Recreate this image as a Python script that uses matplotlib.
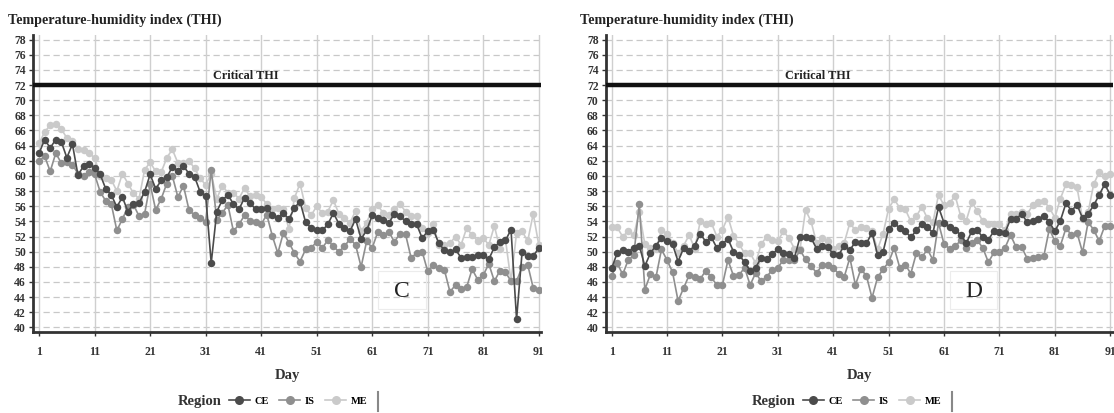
import matplotlib
matplotlib.use("Agg")
import matplotlib.pyplot as plt
from matplotlib.lines import Line2D
from matplotlib.patches import Rectangle
import numpy as np

days = list(range(1, 92))
regions = ["CE", "IS", "ME"]
critical_thi = 72
x_ticks = [1, 11, 21, 31, 41, 51, 61, 71, 81, 91]
y_ticks = list(range(40, 80, 2))

ce_c = [63.0, 64.8, 63.7, 64.8, 64.5, 62.4, 64.2, 60.1, 61.3, 61.6,
        61.1, 60.2, 58.3, 57.5, 55.9, 57.2, 55.3, 56.3, 56.4, 57.9,
        60.2, 58.3, 59.4, 59.8, 61.2, 60.7, 61.3, 60.3, 59.9, 57.9,
        57.4, 48.5, 55.3, 56.8, 57.5, 56.3, 55.6, 57.1, 56.4, 55.6,
        55.6, 55.8, 54.9, 54.4, 55.1, 54.3, 55.8, 56.6, 53.9, 53.1,
        52.9, 52.8, 53.6, 55.1, 53.7, 53.1, 52.7, 54.3, 51.7, 52.8,
        54.8, 54.5, 54.2, 53.8, 55.0, 54.7, 54.0, 53.7, 53.6, 51.8,
        52.7, 52.9, 51.1, 50.2, 49.9, 50.3, 49.2, 49.3, 49.3, 49.6,
        49.5, 49.0, 50.6, 51.3, 51.5, 52.9, 41.1, 50.0, 49.4, 49.4, 50.5]
is_c = [62.0, 62.6, 60.6, 63.0, 61.7, 61.8, 61.5, 60.3, 60.0, 60.5,
        60.2, 57.9, 56.7, 56.3, 52.8, 54.3, 55.9, 56.2, 54.7, 55.0,
        58.9, 55.5, 57.0, 59.0, 60.0, 57.2, 58.7, 55.5, 54.8, 54.4,
        53.9, 60.8, 54.2, 55.1, 56.2, 52.7, 53.6, 54.8, 54.1, 53.9,
        53.6, 54.9, 52.1, 49.8, 52.5, 51.2, 49.8, 48.7, 50.3, 50.5,
        51.3, 50.5, 51.5, 50.7, 50.0, 50.7, 51.7, 50.9, 48.0, 51.4,
        50.5, 52.6, 52.2, 52.6, 51.3, 52.4, 52.3, 49.2, 49.8, 50.0,
        47.4, 48.2, 47.8, 47.6, 44.7, 45.6, 45.1, 45.3, 47.7, 46.3,
        46.9, 48.4, 46.1, 47.5, 47.3, 46.1, 46.1, 48.0, 48.3, 45.2, 45.0]
me_c = [64.3, 65.8, 66.7, 66.9, 66.2, 65.0, 64.6, 63.6, 63.4, 63.0,
        62.4, 60.0, 59.7, 59.5, 58.0, 60.3, 59.0, 57.7, 57.0, 60.8,
        61.8, 60.6, 60.5, 62.4, 63.5, 61.7, 61.7, 62.0, 61.0, 59.7,
        58.8, 60.3, 57.0, 58.7, 57.8, 57.8, 57.0, 58.4, 57.3, 57.5,
        57.2, 56.3, 55.6, 55.8, 55.6, 53.0, 57.1, 59.0, 55.8, 54.8,
        56.0, 55.1, 55.3, 56.8, 55.0, 54.5, 53.8, 55.4, 52.7, 53.8,
        55.7, 56.1, 55.1, 54.9, 55.6, 56.3, 55.3, 54.7, 54.7, 53.1,
        52.5, 53.6, 50.9, 50.9, 51.1, 52.0, 50.9, 53.1, 52.2, 51.4,
        51.8, 50.9, 53.4, 50.4, 51.6, 46.1, 52.5, 52.7, 51.4, 55.0, 50.9]

ce_d = [47.8, 49.8, 50.2, 50.0, 50.5, 50.8, 48.1, 49.8, 50.8, 51.8,
        51.4, 51.0, 48.7, 50.5, 50.1, 50.8, 52.4, 51.3, 51.9, 50.5,
        51.0, 51.7, 50.0, 49.6, 48.6, 47.5, 47.9, 49.2, 49.0, 49.7,
        50.3, 49.8, 49.7, 49.2, 51.9, 52.0, 51.8, 50.4, 50.8, 50.6,
        49.7, 49.6, 50.8, 50.2, 51.3, 51.2, 51.1, 52.5, 49.6, 50.0,
        53.0, 53.8, 53.1, 52.7, 51.9, 52.8, 53.7, 53.2, 52.5, 55.9,
        53.8, 53.3, 52.9, 52.2, 51.1, 52.7, 52.8, 51.9, 51.6, 52.7,
        52.6, 52.5, 54.3, 54.3, 55.0, 53.9, 54.1, 54.3, 54.7, 53.9,
        52.7, 54.1, 56.4, 55.4, 56.2, 54.4, 55.0, 56.1, 57.5, 58.9, 57.5]
is_d = [46.8, 48.5, 47.0, 48.9, 49.5, 56.3, 45.0, 47.0, 46.6, 50.3,
        48.9, 47.3, 43.5, 45.2, 46.9, 46.6, 46.4, 47.5, 46.6, 45.6,
        45.6, 48.9, 46.8, 46.9, 47.9, 45.6, 47.2, 46.1, 46.7, 47.6,
        47.9, 48.9, 48.9, 48.9, 50.2, 49.0, 48.1, 47.2, 48.2, 48.2,
        47.8, 47.1, 46.7, 49.2, 45.6, 47.7, 46.8, 43.9, 46.6, 47.7,
        48.6, 50.5, 47.9, 48.3, 47.1, 49.8, 49.3, 50.3, 48.9, 53.8,
        51.0, 50.4, 50.7, 51.5, 50.5, 51.2, 51.5, 50.5, 48.6, 49.9,
        50.0, 50.5, 52.2, 50.6, 50.6, 49.1, 49.2, 49.3, 49.4, 53.0,
        51.4, 50.8, 53.1, 52.2, 52.5, 49.9, 53.9, 52.9, 51.4, 53.4, 53.4]
me_d = [53.2, 53.2, 52.0, 52.7, 52.2, 55.2, 51.0, 50.5, 50.3, 52.8,
        52.4, 51.2, 49.8, 50.8, 52.2, 50.4, 54.0, 53.6, 53.8, 52.0,
        52.9, 54.6, 52.1, 51.0, 49.8, 49.8, 48.5, 51.0, 52.0, 51.6,
        51.4, 52.7, 51.8, 50.4, 50.3, 55.5, 54.0, 51.1, 51.8, 51.4,
        50.4, 50.8, 51.2, 53.8, 52.8, 53.3, 53.1, 52.7, 50.3, 52.4,
        55.7, 56.9, 55.8, 55.6, 54.0, 54.7, 55.9, 54.4, 53.9, 57.5,
        56.1, 56.4, 57.4, 54.7, 54.1, 56.5, 55.4, 54.0, 53.7, 53.6,
        53.7, 52.8, 55.0, 55.0, 55.2, 55.0, 56.1, 56.6, 56.7, 55.8,
        54.5, 57.0, 58.9, 58.8, 58.5, 54.3, 55.2, 58.9, 60.5, 60.0, 60.2]

panels = [("C", ce_c, is_c, me_c), ("D", ce_d, is_d, me_d)]

colors = {"CE": "#4b4b4b", "IS": "#8f8f8f", "ME": "#cacaca"}
serif = ["Liberation Serif", "DejaVu Serif"]
plt.rcParams["font.family"] = serif

fig = plt.figure(figsize=(11.14, 4.13), dpi=100)
axes_pos = [[33 / 1114, 1 - 332 / 413, 508 / 1114, 297 / 413],
            [605.5 / 1114, 1 - 332 / 413, 507 / 1114, 297 / 413]]
title_x = [8 / 1114, 580 / 1114]
legend_x = [178 / 1114, 752 / 1114]

for i, (letter, ce, isv, me) in enumerate(panels):
    ax = fig.add_axes(axes_pos[i])
    ax.set_xlim(-0.1, 91.4)
    ax.set_ylim(39.4, 78.6)
    for y in y_ticks:
        ax.axhline(y, color="#c8c8c8", lw=0.9, ls=(0, (5, 3)), zorder=0)
    for x in x_ticks:
        ax.axvline(x, color="#cfcfcf", lw=1.0, zorder=0)
    series = {"CE": ce, "IS": isv, "ME": me}
    for name in ["ME", "IS", "CE"]:
        ax.plot(days, series[name], color=colors[name], lw=1.2, marker="o",
                markersize=5.4, markeredgewidth=0, zorder=3)
    ax.axhline(critical_thi, color="#111111", lw=3.2, zorder=4)
    ax.text(38.3, critical_thi + 0.35, "Critical THI", ha="center", va="bottom",
            fontsize=8.8, fontweight="bold", color="#222222")
    ax.add_patch(Rectangle((62.0, 42.4), 8.6, 5.0, fill=False,
                           edgecolor="#ececec", lw=0.8, zorder=2))
    ax.text(66.3, 44.8, letter, ha="center", va="center", fontsize=17,
            color="#222222", zorder=5)
    ax.set_xticks(x_ticks)
    ax.set_yticks(y_ticks)
    ax.tick_params(axis="both", labelsize=8.5, length=3, width=1, color="#333333",
                   labelcolor="#333333")
    ax.tick_params(axis="x", pad=7)
    ax.tick_params(axis="y", pad=2)
    for lab in ax.get_xticklabels() + ax.get_yticklabels():
        lab.set_fontweight("bold")
    for s in ["top", "right"]:
        ax.spines[s].set_visible(False)
    for s in ["left", "bottom"]:
        ax.spines[s].set_linewidth(2)
        ax.spines[s].set_color("#333333")
    ax.set_xlabel("Day", fontsize=10.5, fontweight="bold", color="#333333", labelpad=8)
    fig.text(title_x[i], 1 - 20 / 413, "Temperature-humidity index (THI)",
             fontsize=10.2, fontweight="bold", color="#222222", va="center")
    fig.text(legend_x[i], 1 - 402 / 413, "Region", fontsize=10.5,
             fontweight="bold", color="#333333", va="center")
    handles = [Line2D([0], [0], color=colors[r], lw=1.2, marker="o",
                      markersize=6.5, markeredgewidth=0) for r in regions]
    fig.legend(handles, regions, loc="center left",
               bbox_to_anchor=(legend_x[i] + 51 / 1114, 1 - 401 / 413),
               ncol=3, frameon=False, handlelength=2.0,
               handletextpad=0.45, columnspacing=1.0, borderaxespad=0,
               borderpad=0, prop={"family": serif, "weight": "bold", "size": 7.5})
    bx = legend_x[i] + 200 / 1114
    fig.add_artist(Line2D([bx, bx], [1 - 392 / 413, 1 - 411 / 413],
                          color="#888888", lw=1.5))

fig.savefig("out.png", dpi=100)
